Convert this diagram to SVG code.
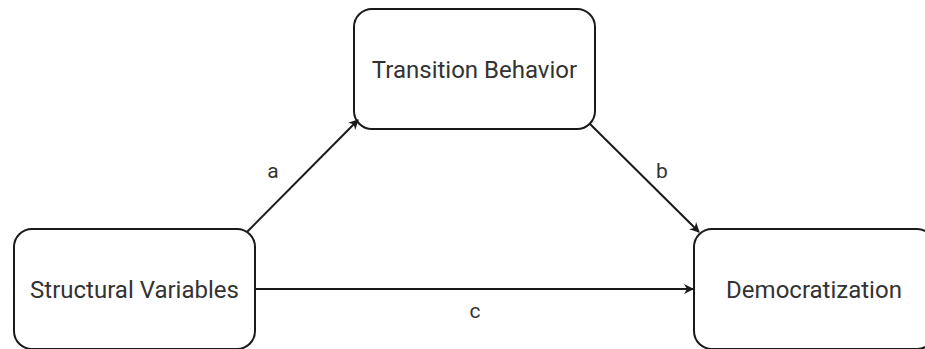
<svg xmlns="http://www.w3.org/2000/svg" width="925" height="349" viewBox="0 0 925 349">
<style>
.node rect{fill:#fff;stroke:#1a1a1a;stroke-width:2}
text{font-family:Roboto,"Liberation Sans",Arial,sans-serif;fill:#333;text-anchor:middle}
.lbl{font-size:24px}
.el{font-size:21px}
.edge{stroke:#1a1a1a;stroke-width:2;fill:none}
</style>
<defs>
<marker id="arr" viewBox="0 0 10 10" refX="9" refY="5" markerWidth="10" markerHeight="10" orient="auto" markerUnits="userSpaceOnUse">
<path d="M0,0 L10,5 L0,10 L3,5 z" fill="#1a1a1a"/>
</marker>
</defs>
<g id="transition" class="node"><rect x="354" y="9" width="241" height="120" rx="18"/><text class="lbl" x="474.5" y="78">Transition Behavior</text></g>
<g id="structural" class="node"><rect x="14" y="229" width="241" height="120" rx="18"/><text class="lbl" x="134.5" y="298">Structural Variables</text></g>
<g id="democratization" class="node"><rect x="694" y="229" width="241" height="120" rx="18"/><text class="lbl" x="814" y="298">Democratization</text></g>
<g id="connectors">
<path class="edge" d="M247,232 L358,120" marker-end="url(#arr)"/>
<path class="edge" d="M590,124 L699,232" marker-end="url(#arr)"/>
<path class="edge" d="M255,289 L693,289" marker-end="url(#arr)"/>
<text class="el" x="273" y="178">a</text>
<text class="el" x="662" y="178">b</text>
<text class="el" x="475" y="318">c</text>
</g>
</svg>
